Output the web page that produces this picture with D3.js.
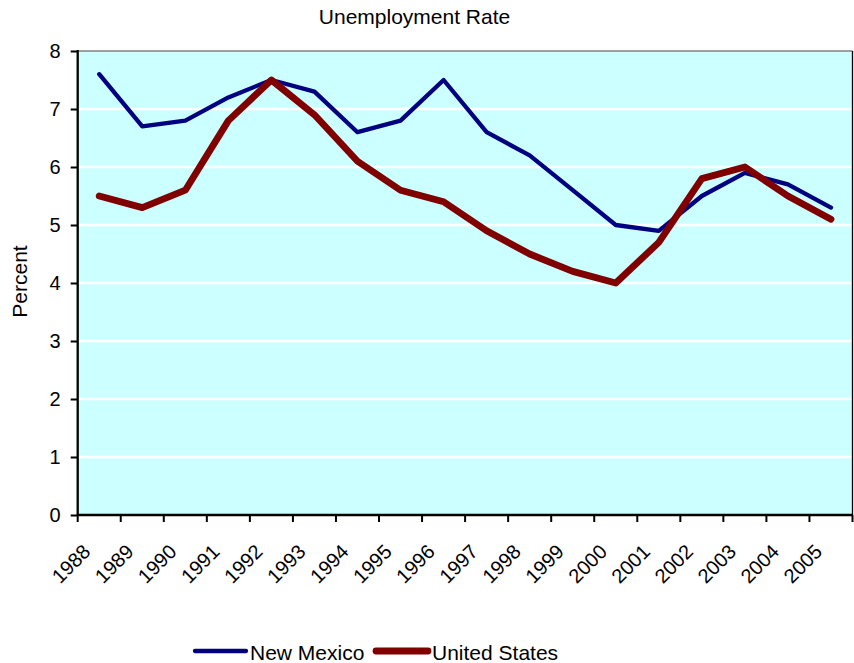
<!DOCTYPE html>
<html>
<head>
<meta charset="utf-8">
<script src="https://cdn.jsdelivr.net/npm/d3@7"></script>
<style>
  html, body { margin: 0; padding: 0; background: #fff; }
  svg { display: block; font-family: "Liberation Sans", Arial, sans-serif; }
</style>
</head>
<body>
<svg id="chart" width="854" height="663"></svg>
<script>
const years = ["1988","1989","1990","1991","1992","1993","1994","1995","1996","1997","1998","1999","2000","2001","2002","2003","2004","2005"];
const newMexico = [7.6, 6.7, 6.8, 7.2, 7.5, 7.3, 6.6, 6.8, 7.5, 6.6, 6.2, 5.6, 5.0, 4.9, 5.5, 5.9, 5.7, 5.3];
const unitedStates = [5.5, 5.3, 5.6, 6.8, 7.5, 6.9, 6.1, 5.6, 5.4, 4.9, 4.5, 4.2, 4.0, 4.7, 5.8, 6.0, 5.5, 5.1];
const yTicks = [0, 1, 2, 3, 4, 5, 6, 7, 8];
const seriesNames = ["New Mexico", "United States"];

(function () {
const svg = d3.select("#chart");
const pLeft = 77.7, pRight = 852.5, pTop = 51, pBottom = 515;

const x = d3.scaleBand().domain(years).range([pLeft, pRight]).padding(0);
const y = d3.scaleLinear().domain([0, 8]).range([pBottom, pTop]);

// plot background
svg.append("rect")
  .attr("x", pLeft).attr("y", pTop)
  .attr("width", pRight - pLeft).attr("height", pBottom - pTop)
  .attr("fill", "#CCFFFF");

// gridlines
svg.append("g").selectAll("line")
  .data(yTicks.filter(d => d > 0 && d < 8))
  .join("line")
  .attr("x1", pLeft).attr("x2", pRight)
  .attr("y1", d => y(d)).attr("y2", d => y(d))
  .attr("stroke", "#ffffff").attr("stroke-width", 2.3);

// top and right border
svg.append("line").attr("x1", pLeft).attr("x2", pRight).attr("y1", pTop).attr("y2", pTop)
  .attr("stroke", "#808080").attr("stroke-width", 1.5);
svg.append("line").attr("x1", pRight).attr("x2", pRight).attr("y1", pTop).attr("y2", pBottom)
  .attr("stroke", "#000").attr("stroke-width", 1.3);

// lines
const line = d3.line().x((d, i) => x(years[i]) + x.bandwidth() / 2).y(d => y(d));
svg.append("path").datum(newMexico)
  .attr("d", line).attr("fill", "none")
  .attr("stroke", "#000080").attr("stroke-width", 4.3)
  .attr("stroke-linejoin", "round").attr("stroke-linecap", "round");
svg.append("path").datum(unitedStates)
  .attr("d", line).attr("fill", "none")
  .attr("stroke", "#800000").attr("stroke-width", 6.8)
  .attr("stroke-linejoin", "round").attr("stroke-linecap", "round");

// y axis
const yAxis = svg.append("g")
  .attr("transform", `translate(${pLeft},0)`)
  .call(d3.axisLeft(y).tickValues(yTicks).tickSize(7).tickPadding(10).tickFormat(d3.format("d")));
yAxis.select(".domain").remove();
yAxis.selectAll(".tick line").attr("stroke", "#000").attr("stroke-width", 2);
yAxis.selectAll(".tick text").attr("font-size", 20).attr("fill", "#000")
  .attr("font-family", "Liberation Sans, Arial, sans-serif");
svg.append("line").attr("x1", pLeft).attr("x2", pLeft).attr("y1", pTop - 1).attr("y2", pBottom + 1)
  .attr("stroke", "#000").attr("stroke-width", 2.3);

// x axis ticks at category boundaries
const boundaries = years.map(d => x(d)).concat([pRight]);
svg.append("g").selectAll("line").data(boundaries).join("line")
  .attr("x1", d => d).attr("x2", d => d)
  .attr("y1", pBottom).attr("y2", pBottom + 7)
  .attr("stroke", "#000").attr("stroke-width", 2);
svg.append("line").attr("x1", pLeft - 1).attr("x2", pRight).attr("y1", pBottom).attr("y2", pBottom)
  .attr("stroke", "#000").attr("stroke-width", 2.3);

// x labels
svg.append("g").selectAll("text").data(years).join("text")
  .attr("transform", d => `translate(${x(d) + x.bandwidth() / 2 - 7.5},553) rotate(-45)`)
  .attr("text-anchor", "end")
  .attr("font-size", 20).attr("fill", "#000")
  .text(d => d);

// title
svg.append("text").attr("x", 414.5).attr("y", 24)
  .attr("text-anchor", "middle").attr("font-size", 21).attr("fill", "#000")
  .text("Unemployment Rate");

// y label
svg.append("text")
  .attr("transform", "translate(26.5,281.5) rotate(-90)")
  .attr("text-anchor", "middle").attr("font-size", 21).attr("fill", "#000")
  .text("Percent");

// legend
const legend = svg.append("g");
const legendItems = [
  { name: seriesNames[0], color: "#000080", width: 4.3, x1: 195, x2: 246, tx: 250 },
  { name: seriesNames[1], color: "#800000", width: 6.8, x1: 376, x2: 428, tx: 432 }
];
legendItems.forEach(it => {
  legend.append("line").attr("x1", it.x1).attr("x2", it.x2).attr("y1", 651).attr("y2", 651)
    .attr("stroke", it.color).attr("stroke-width", it.width).attr("stroke-linecap", "round");
  legend.append("text").attr("x", it.tx).attr("y", 660)
    .attr("font-size", 21).attr("fill", "#000").text(it.name);
});
})();
</script>
</body>
</html>
